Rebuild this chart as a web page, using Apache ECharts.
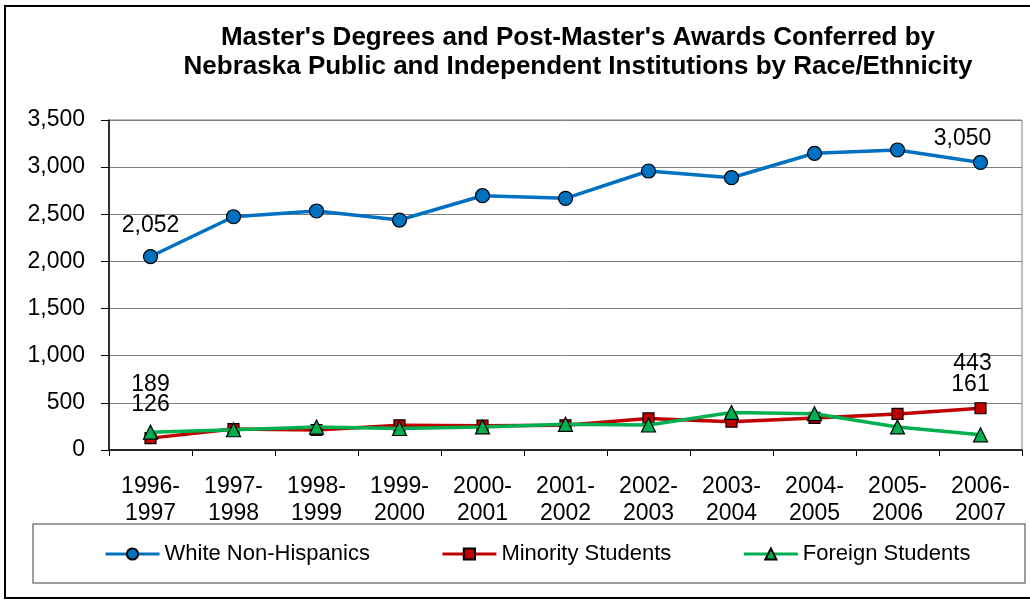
<!DOCTYPE html>
<html lang="en">
<head>
    <meta charset="UTF-8">
    <title>Master's Degrees by Race/Ethnicity</title>
    <script type="text/javascript" src="https://cdn.jsdelivr.net/npm/echarts@6/dist/echarts.min.js"></script>
    <style>
        body { margin: 0; background: #fff; }
        #chart { width: 1030px; height: 600px; }
    </style>
</head>
<body>
<div id="chart"></div>
<script type="text/javascript">
    // data
    var years = ['1996-\n1997', '1997-\n1998', '1998-\n1999', '1999-\n2000', '2000-\n2001', '2001-\n2002',
        '2002-\n2003', '2003-\n2004', '2004-\n2005', '2005-\n2006', '2006-\n2007'];
    var white = [2052, 2474, 2535, 2439, 2697, 2669, 2959, 2888, 3147, 3182, 3050];
    var minority = [126, 222, 212, 262, 258, 262, 335, 300, 340, 383, 443];
    var foreign = [189, 215, 243, 228, 245, 272, 265, 398, 385, 245, 161];
    var yTicks = [0, 500, 1000, 1500, 2000, 2500, 3000, 3500];

    var font = 'Liberation Sans, Arial, sans-serif';

    function fmt(v) {
        return Number(v).toLocaleString('en-US');
    }

    // only first and last points carry a label, each nudged like the original
    function withLabels(values, firstOff, lastOff) {
        return values.map(function (v, i) {
            var item = { value: v };
            var off = i === 0 ? firstOff : (i === values.length - 1 ? lastOff : null);
            if (off) {
                item.label = {
                    show: true,
                    position: 'inside',
                    offset: off,
                    formatter: function (p) { return fmt(p.value); },
                    color: '#000',
                    fontSize: 23,
                    fontFamily: font
                };
            }
            return item;
        });
    }

    var mychart = echarts.init(document.getElementById('chart'));
    var option = {
        animation: false,
        backgroundColor: '#fff',
        title: {
            text: "Master's Degrees and Post-Master's Awards Conferred by\nNebraska Public and Independent Institutions by Race/Ethnicity",
            left: 573,
            top: 18,
            textAlign: 'center',
            textStyle: {
                fontSize: 26,
                fontWeight: 'bold',
                fontFamily: font,
                lineHeight: 29,
                color: '#000'
            }
        },
        graphic: [
            {
                type: 'rect',
                shape: { x: 5, y: 6, width: 1030, height: 592 },
                style: { fill: null, stroke: '#000', lineWidth: 2 },
                silent: true,
                z: -1
            },
            {
                type: 'rect',
                shape: { x: 33, y: 524, width: 992, height: 59 },
                style: { fill: null, stroke: '#7f7f7f', lineWidth: 1.5 },
                silent: true,
                z: -1
            }
        ],
        legend: {
            left: 104,
            top: 543,
            padding: 0,
            itemWidth: 54,
            itemHeight: 14,
            itemGap: 71,
            lineStyle: { width: 3 },
            textStyle: { fontSize: 22, fontFamily: font, color: '#000' },
            data: ['White Non-Hispanics', 'Minority Students', 'Foreign Students']
        },
        grid: {
            left: 109,
            right: 8,
            top: 120,
            bottom: 150,
            show: true,
            borderColor: '#808080',
            borderWidth: 1
        },
        xAxis: {
            type: 'category',
            data: years,
            boundaryGap: true,
            axisLine: { lineStyle: { color: '#000', width: 1.5 } },
            axisTick: { show: true, length: 6, lineStyle: { color: '#000' } },
            axisLabel: {
                margin: 23,
                fontSize: 23,
                lineHeight: 27,
                fontFamily: font,
                color: '#000',
                interval: 0
            }
        },
        yAxis: {
            type: 'value',
            min: yTicks[0],
            max: yTicks[yTicks.length - 1],
            interval: yTicks[1] - yTicks[0],
            axisLine: { show: true, lineStyle: { color: '#000', width: 1.5 } },
            axisTick: { show: true, length: 8, lineStyle: { color: '#000' } },
            splitLine: { lineStyle: { color: '#808080', width: 1 } },
            axisLabel: {
                margin: 24,
                fontSize: 23,
                fontFamily: font,
                color: '#000',
                formatter: fmt
            }
        },
        series: [
            {
                name: 'White Non-Hispanics',
                type: 'line',
                data: withLabels(white, [0, -31], [-18, -24]),
                symbol: 'circle',
                symbolSize: 14,
                color: '#0070C0',
                lineStyle: { width: 3.5, color: '#0070C0' },
                itemStyle: { color: '#0070C0', borderColor: '#000', borderWidth: 1.2 },
                z: 3
            },
            {
                name: 'Minority Students',
                type: 'line',
                data: withLabels(minority, [0, -33], [-8, -45]),
                symbol: 'rect',
                symbolSize: 11,
                color: '#C00000',
                lineStyle: { width: 3.5, color: '#C00000' },
                itemStyle: { color: '#C00000', borderColor: '#000', borderWidth: 1.2 },
                z: 3
            },
            {
                name: 'Foreign Students',
                type: 'line',
                data: withLabels(foreign, [0, -48], [-10, -50]),
                symbol: 'triangle',
                symbolSize: 14,
                color: '#00B050',
                lineStyle: { width: 3.5, color: '#00B050' },
                itemStyle: { color: '#00B050', borderColor: '#000', borderWidth: 1.2 },
                z: 4
            }
        ]
    };
    mychart.setOption(option);
</script>
</body>
</html>
